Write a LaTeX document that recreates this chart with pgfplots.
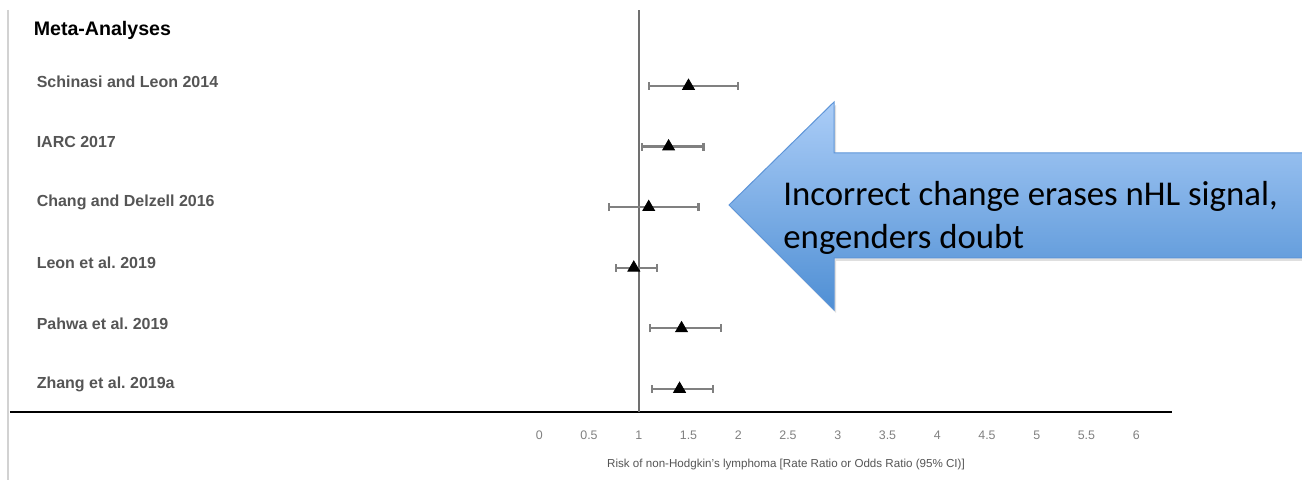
\documentclass[border=0pt]{standalone}
\usepackage{pgfplots}
\pgfplotsset{compat=1.18}
\usepackage{pgfplotstable}
\usepackage{fontspec}
\setmainfont{Liberation Sans}
\newfontfamily\calibri{Carlito}
\usetikzlibrary{shadows}
\definecolor{lab}{HTML}{555555}
\definecolor{tick}{HTML}{808080}
\definecolor{ebar}{HTML}{808080}
\definecolor{vline}{HTML}{707070}
\definecolor{arrowtop}{HTML}{ABCDF7}
\definecolor{arrowbot}{HTML}{4F8FD4}
\definecolor{arrowline}{HTML}{5E95D8}
\pgfplotstableread{
y x em ep
6 1.50 0.40 0.50
5 1.30 0.27 0.35
4 1.10 0.40 0.50
3 0.95 0.18 0.23
2 1.43 0.32 0.40
1 1.41 0.28 0.34
}\meta
\frenchspacing
\begin{document}
\begin{tikzpicture}
\begin{axis}[at={(0,0)}, anchor=south west, scale only axis,
  width=581pt, height=201pt,
  xmin=-5.32, xmax=6.36, ymin=0.62, ymax=7.254,
  axis x line*=bottom, axis y line=none,
  axis line style={black, line width=0.75pt, -},
  xtick={0,0.5,1,1.5,2,2.5,3,3.5,4,4.5,5,5.5,6},
  ytick=\empty,
  major tick length=0pt,
  xticklabel style={font=\fontsize{6.2}{7}\selectfont, text=tick, anchor=center, yshift=-11.5pt},
  /pgf/number format/assume math mode=true,
  clip=false]
\addplot[vline, line width=0.8pt] coordinates {(1,0.62) (1,7.254)};
\addplot[only marks, mark=triangle*, mark size=3.4pt, black,
  error bars/.cd, x dir=both, x explicit,
  error bar style={draw=ebar, line width=1.1pt},
  error mark options={draw=ebar, line width=1.1pt, mark size=2pt, rotate=90}]
  table[x=x, y=y, x error plus=ep, x error minus=em]{\meta};
\node[anchor=west, inner sep=0, font=\bfseries\fontsize{9.8}{11}\selectfont, text=black] at (axis cs:-5.085,6.92) {Meta-Analyses};
\node[anchor=west, inner sep=0, font=\bfseries\fontsize{8}{9}\selectfont, text=lab] at (axis cs:-5.055,6.07) {Schinasi and Leon 2014};
\node[anchor=west, inner sep=0, font=\bfseries\fontsize{8}{9}\selectfont, text=lab] at (axis cs:-5.055,5.08) {IARC 2017};
\node[anchor=west, inner sep=0, font=\bfseries\fontsize{8}{9}\selectfont, text=lab] at (axis cs:-5.055,4.08) {Chang and Delzell 2016};
\node[anchor=west, inner sep=0, font=\bfseries\fontsize{8}{9}\selectfont, text=lab] at (axis cs:-5.055,3.08) {Leon et al. 2019};
\node[anchor=west, inner sep=0, font=\bfseries\fontsize{8}{9}\selectfont, text=lab] at (axis cs:-5.055,2.08) {Pahwa et al. 2019};
\node[anchor=west, inner sep=0, font=\bfseries\fontsize{8}{9}\selectfont, text=lab] at (axis cs:-5.055,1.08) {Zhang et al. 2019a};
\node[font=\fontsize{5.8}{7}\selectfont, text=lab, inner sep=0] at (axis cs:2.48,0.62) [yshift=-26.5pt] {Risk of non-Hodgkin's lymphoma [Rate Ratio or Odds Ratio (95\% CI)]};
\end{axis}
\draw[gray!35, line width=0.8pt] (-1pt,201pt) -- (-1pt,-34pt);
\draw[draw=arrowline, line width=0.5pt, top color=arrowtop, bottom color=arrowbot,
  drop shadow={opacity=0.25, shadow xshift=1pt, shadow yshift=-1.5pt}]
  (359.5pt,103.5pt) -- (412pt,155pt) -- (412pt,129.5pt) -- (655pt,129.5pt)
  -- (655pt,77pt) -- (412pt,77pt) -- (412pt,51pt) -- cycle;
\node[anchor=west, align=left, inner sep=0, font=\calibri\fontsize{17.4}{21.5}\selectfont] at (386.5pt,97pt) {Incorrect change erases nHL signal,\\engenders doubt};
\pgfresetboundingbox
\path[use as bounding box] (-5pt,-34pt) rectangle (646pt,206pt);
\end{tikzpicture}
\end{document}
